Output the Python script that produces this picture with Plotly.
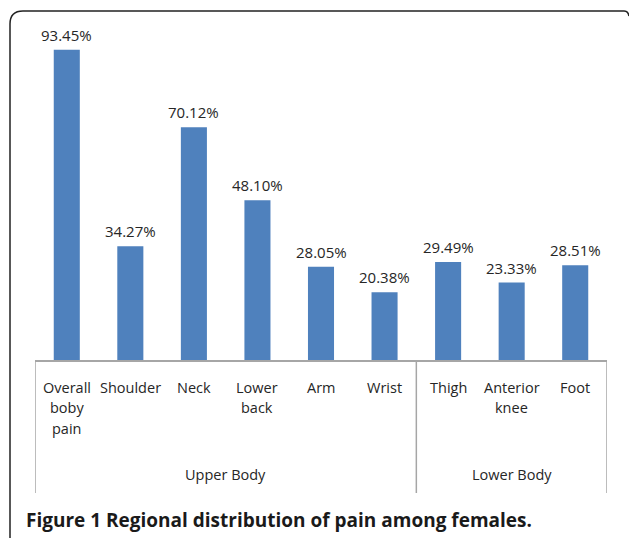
import plotly.graph_objects as go

categories = ["Overall<br>boby<br>pain", "Shoulder", "Neck", "Lower<br>back", "Arm",
              "Wrist", "Thigh", "Anterior<br>knee", "Foot"]
values = [93.45, 34.27, 70.12, 48.10, 28.05, 20.38, 29.49, 23.33, 28.51]
groups = ["Upper Body", "Lower Body"]
group_sizes = [6, 3]
caption = "<b>Figure 1 Regional distribution of pain among females.</b>"

W, H = 629, 538
L, R, T, B = 35, 22, 28, 178  # plot area pixels
pw, ph = W - L - R, H - T - B

def px2paper(x, y):
    return (x - L) / pw, (H - B - y) / ph

xs = list(range(len(categories)))
fig = go.Figure(go.Bar(x=xs, y=values, width=0.41, marker_color="#4f81bd",
                       marker_line_width=0, hoverinfo="skip"))

txt = dict(family="Open Sans, sans-serif", color="#262626")
ann = []
for x, v in zip(xs, values):
    ann.append(dict(x=x, y=v, xref="x", yref="y", text=f"{v:.2f}%", showarrow=False,
                    yanchor="middle", yshift=15, font=dict(size=15, **txt)))
for x, c in zip(xs, categories):
    for i, line in enumerate(c.split("<br>")):
        ann.append(dict(x=x, y=0, xref="x", yref="y", text=line, showarrow=False,
                        yanchor="middle", yshift=-27 - 20.5 * i, font=dict(size=14.5, **txt)))

# group labels and separators
start = 0
_, gy = px2paper(0, 475)
_, ybot = px2paper(0, 493)
shapes = []
bounds = [-0.5]
for g, n in zip(groups, group_sizes):
    center = start + (n - 1) / 2
    ann.append(dict(x=center, y=gy, xref="x", yref="paper", text=g, showarrow=False,
                    yanchor="middle", font=dict(size=14.5, **txt)))
    start += n
    bounds.append(start - 0.5)
for b in bounds:
    shapes.append(dict(type="line", xref="x", yref="paper", x0=b, x1=b, y0=0, y1=ybot,
                       line=dict(color="#a6a6a6", width=1.5)))

# caption
cx, cy = px2paper(24, 520)
ann.append(dict(x=cx, y=cy, xref="paper", yref="paper", text=caption, showarrow=False,
                xanchor="left", yanchor="middle",
                font=dict(size=19, family="Open Sans, sans-serif", color="#1a1a1a")))

# outer frame (rounded top-left, open at right/bottom)
x0, yb = px2paper(10, 540)
_, yc = px2paper(0, 24)
xc, yt = px2paper(23, 11)
xr, _ = px2paper(624, 11)
xe, ye = px2paper(629, 16)
path = (f"M {x0},{yb} L {x0},{yc} Q {x0},{yt} {xc},{yt} L {xr},{yt} Q {px2paper(628,11)[0]},{yt} {xe},{ye}")
shapes.append(dict(type="path", xref="paper", yref="paper", path=path,
                   line=dict(color="#222222", width=1.5)))

fig.update_layout(
    width=W, height=H, margin=dict(l=L, r=R, t=T, b=B),
    paper_bgcolor="white", plot_bgcolor="white", showlegend=False,
    xaxis=dict(range=[-0.5, len(categories) - 0.5], showticklabels=False, ticks="",
               showgrid=False, zeroline=False, showline=True, linecolor="#a6a6a6",
               linewidth=1.5, fixedrange=True),
    yaxis=dict(range=[0, 100], visible=False, fixedrange=True),
    annotations=ann, shapes=shapes,
)
fig.write_html("out.html", config={"displayModeBar": False},
               post_script="document.body.style.margin='0';document.body.style.overflow='hidden';")
